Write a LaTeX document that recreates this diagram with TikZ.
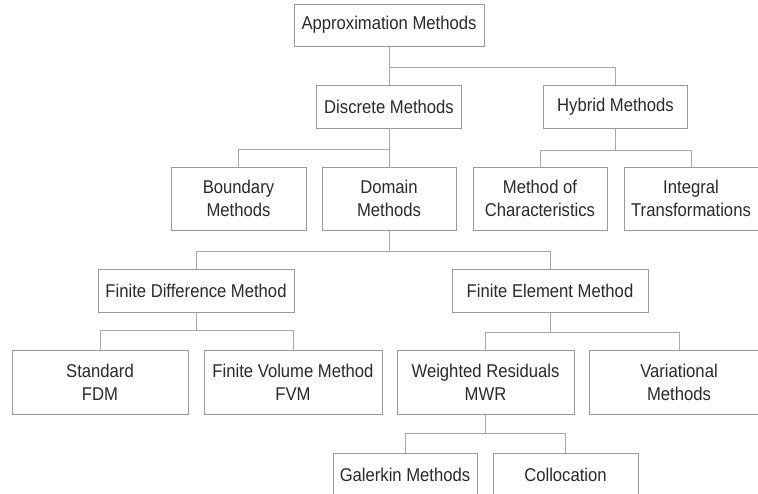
\documentclass[tikz,border=0pt]{standalone}
\usepackage{fontspec}
\setmainfont[FakeStretch=0.9]{Liberation Sans}
\definecolor{boxline}{HTML}{9A9A9A}
\definecolor{conn}{HTML}{A8A8A8}
\definecolor{txt}{HTML}{2A2A2A}
\begin{document}
\begin{tikzpicture}[x=1pt,y=-1pt,
  box/.style={draw=boxline, line width=0.8pt, fill=white, inner sep=0pt, align=center,
    text=txt, font=\fontsize{18.5}{23}\selectfont},
  onel/.style={box, minimum height=43},
  twol/.style={box, minimum height=64},
  link/.style={draw=conn, line width=0.8pt}]
\clip (0,0) rectangle (758,493);
\fill[white] (0,0) rectangle (758,493);
% nodes
\node[onel, minimum width=190, minimum height=42] (approx) at (389,25) {Approximation Methods};
\node[onel, minimum width=145] (discrete) at (389,106.5) {Discrete Methods};
\node[onel, minimum width=144] (hybrid) at (615.5,107) {Hybrid Methods};
\node[twol, minimum width=135, minimum height=63] (boundary) at (238.5,198.5) {Boundary\\Methods};
\node[twol, minimum width=134, minimum height=63] (domain) at (389,198.5) {Domain\\Methods};
\node[twol, minimum width=134, minimum height=63] (moc) at (540,198.5) {Method of\\Characteristics};
\node[twol, minimum width=134, minimum height=63] (integral) at (691,198.5) {Integral\\Transformations};
\node[onel, minimum width=196] (fdm) at (196,290.5) {Finite Difference Method};
\node[onel, minimum width=196] (fem) at (550,290.5) {Finite Element Method};
\node[twol, minimum width=176] (std) at (100,382) {Standard\\FDM};
\node[twol, minimum width=178] (fvm) at (293,382) {Finite Volume Method\\FVM};
\node[twol, minimum width=177] (mwr) at (485.5,382) {Weighted Residuals\\MWR};
\node[twol, minimum width=180] (var) at (679,382) {Variational\\Methods};
\node[onel, minimum width=144] (galerkin) at (405,474.5) {Galerkin Methods};
\node[onel, minimum width=145] (colloc) at (565.5,474.5) {Collocation};
% connectors
\draw[link] (approx.south) -- (discrete.north);
\draw[link] (approx.south) -- ++(0,21) -| (hybrid.north);
\draw[link] (discrete.south) -- (domain.north);
\draw[link] (discrete.south) -- ++(0,21) -| (boundary.north);
\draw[link] (hybrid.south) -- ++(0,21) -| (moc.north);
\draw[link] (hybrid.south) -- ++(0,21) -| (integral.north);
\draw[link] (domain.south) -- ++(0,21) -| (fdm.north);
\draw[link] (domain.south) -- ++(0,21) -| (fem.north);
\draw[link] (fdm.south) -- ++(0,18) -| (std.north);
\draw[link] (fdm.south) -- ++(0,18) -| (fvm.north);
\draw[link] (fem.south) -- ++(0,20) -| (mwr.north);
\draw[link] (fem.south) -- ++(0,20) -| (var.north);
\draw[link] (mwr.south) -- ++(0,19) -| (galerkin.north);
\draw[link] (mwr.south) -- ++(0,19) -| (colloc.north);
\end{tikzpicture}
\end{document}
